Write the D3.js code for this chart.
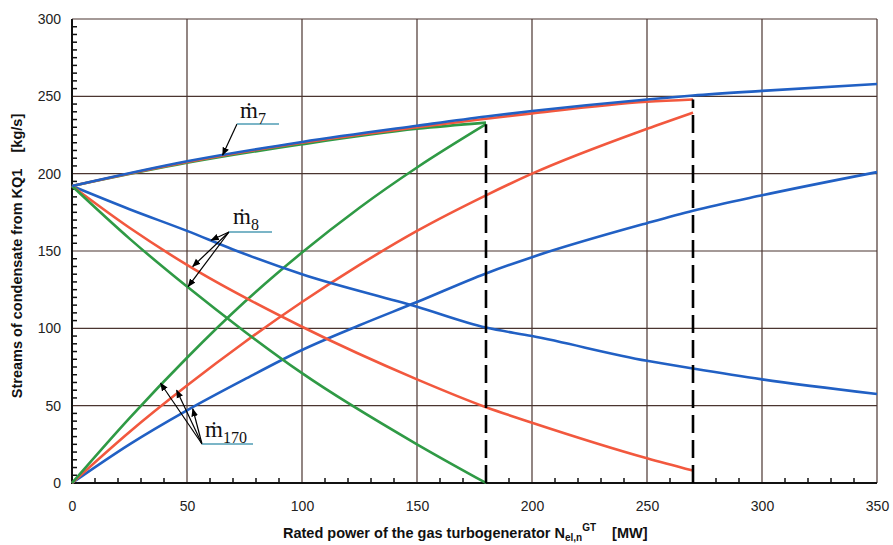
<!DOCTYPE html>
<html><head><meta charset="utf-8">
<script src="https://cdn.jsdelivr.net/npm/d3@7"></script>
<style>
body{margin:0;background:#fff;}
svg{display:block;}
</style>
</head><body>
<svg id="c" width="893" height="545"></svg>
<script>
// ---- data ----
const xTicks = [0,50,100,150,200,250,300,350];
const yTicks = [0,50,100,150,200,250,300];

const m7BlueX = [0,50,100,150,180,200,250,270,300,350];
const m7BlueY = [192,208,220.5,231,237,240.5,248,250.5,253.5,258];
const m7RedX = [0,50,100,150,180,200,250,270];
const m7RedY = [192,207.5,220,230,235.5,239,246.5,248];
const m7GreenX = [0,50,100,150,180];
const m7GreenY = [192,207,219,229,233];

const m8BlueX = [0,25,50,70,100,150,180,200,250,270,300,350];
const m8BlueY = [192,177,163,151,135,114,100.5,95,79,74,67,57.5];
const m8RedX = [0,25,50,100,150,180,200,250,270];
const m8RedY = [192,165,141,101,67,49,39,16,8];
const m8GreenX = [0,25,50,75,100,150,180];
const m8GreenY = [192,158,127,98,71,25,0];

const m170GreenX = [0,25,50,75,100,125,150,180];
const m170GreenY = [0,42,81,117,149,178,204,232];
const m170RedX = [0,25,50,75,100,125,150,180,200,250,270];
const m170RedY = [0,33,63,91,117,141,163,186,200,229,239.5];
const m170BlueX = [0,25,50,75,100,125,150,180,200,250,270,300,350];
const m170BlueY = [0,25,47,67,86,102,117,135.5,146,168,176,186,201];

const dashX = [180,270];
const dashTop = [232,248];

const colors = {blue:"#2160c4", red:"#f2583e", green:"#2f9a45"};

// ---- layout ----
const svg = d3.select("#c");
const L=72, R=877, T=19, B=483;
const x = d3.scaleLinear().domain([0,350]).range([L,R]);
const y = d3.scaleLinear().domain([0,300]).range([B,T]);

// grid
const gridColor = "#4a3530";
svg.append("g").selectAll("line").data(xTicks.slice(1)).join("line")
  .attr("x1",d=>x(d)).attr("x2",d=>x(d)).attr("y1",T).attr("y2",B)
  .attr("stroke",gridColor).attr("stroke-width",1.2);
svg.append("g").selectAll("line").data(yTicks.slice(1)).join("line")
  .attr("x1",L).attr("x2",R).attr("y1",d=>y(d)).attr("y2",d=>y(d))
  .attr("stroke",gridColor).attr("stroke-width",1.2);

// minor ticks (inside)
const xMinor = d3.range(10,350,10).filter(v=>v%50!==0);
const yMinor = d3.range(5,300,5).filter(v=>v%50!==0);
svg.append("g").selectAll("line").data(xMinor).join("line")
  .attr("x1",d=>x(d)).attr("x2",d=>x(d)).attr("y1",B).attr("y2",B-5)
  .attr("stroke","#111").attr("stroke-width",1.5);
svg.append("g").selectAll("line").data(yMinor).join("line")
  .attr("x1",L).attr("x2",L+5).attr("y1",d=>y(d)).attr("y2",d=>y(d))
  .attr("stroke","#111").attr("stroke-width",1.5);

// axes lines
svg.append("line").attr("x1",L).attr("x2",L).attr("y1",T).attr("y2",B+1).attr("stroke","#111").attr("stroke-width",2);
svg.append("line").attr("x1",L-1).attr("x2",R).attr("y1",B).attr("y2",B).attr("stroke","#111").attr("stroke-width",2);

// tick labels
const xAxis = d3.axisBottom(x).tickValues(xTicks).tickSize(0).tickPadding(18);
const gx = svg.append("g").attr("transform",`translate(0,${B})`).call(xAxis);
gx.select(".domain").remove();
gx.selectAll("text").attr("font-family","Liberation Sans, Arial, sans-serif").attr("font-size",14).attr("fill","#222");
const yAxis = d3.axisLeft(y).tickValues(yTicks).tickSize(0).tickPadding(11);
const gy = svg.append("g").attr("transform",`translate(${L},0)`).call(yAxis);
gy.select(".domain").remove();
gy.selectAll("text").attr("font-family","Liberation Sans, Arial, sans-serif").attr("font-size",14).attr("fill","#222");

// curves
const line = d3.line().x(d=>x(d[0])).y(d=>y(d[1])).curve(d3.curveMonotoneX);
const series = [
  [m170BlueX,m170BlueY,colors.blue],
  [m170RedX,m170RedY,colors.red],
  [m170GreenX,m170GreenY,colors.green],
  [m8BlueX,m8BlueY,colors.blue],
  [m8RedX,m8RedY,colors.red],
  [m8GreenX,m8GreenY,colors.green],
  [m7GreenX,m7GreenY,colors.green],
  [m7RedX,m7RedY,colors.red],
  [m7BlueX,m7BlueY,colors.blue],
];
svg.append("g").selectAll("path").data(series).join("path")
  .attr("d",s=>line(s[0].map((v,i)=>[v,s[1][i]])))
  .attr("fill","none").attr("stroke",s=>s[2]).attr("stroke-width",2.6);

// dashed verticals
svg.append("g").selectAll("line").data(dashX).join("line")
  .attr("x1",d=>x(d)).attr("x2",d=>x(d)).attr("y1",y(0)).attr("y2",(d,i)=>y(dashTop[i]))
  .attr("stroke","#000").attr("stroke-width",2.6).attr("stroke-dasharray","18,7");

// annotations
const defs = svg.append("defs");
defs.append("marker").attr("id","arr").attr("viewBox","0 0 10 10").attr("refX",9).attr("refY",5)
  .attr("markerWidth",7).attr("markerHeight",7).attr("orient","auto")
  .append("path").attr("d","M0,1 L10,5 L0,9 Z").attr("fill","#000");

function label(txt, sub, lx, ly, ulx1, ulx2, uly, tips){
  const g = svg.append("g");
  tips.forEach(t=>{
    g.append("line").attr("x1",ulx1).attr("y1",uly).attr("x2",t[0]).attr("y2",t[1])
      .attr("stroke","#000").attr("stroke-width",1.2).attr("marker-end","url(#arr)");
  });
  g.append("line").attr("x1",ulx1).attr("x2",ulx2).attr("y1",uly).attr("y2",uly)
    .attr("stroke","#4f9cb5").attr("stroke-width",1.3);
  const t = g.append("text").attr("x",lx).attr("y",ly)
    .attr("font-family","Liberation Serif, Times New Roman, serif").attr("font-size",23).attr("fill","#111");
  t.append("tspan").text(txt);
  t.append("tspan").attr("dy",6).attr("font-size",16).text(sub);
}
label("ṁ","7",240,118,237,279,124,[[x(65.5),y(212)]]);
label("ṁ","8",233,224,229,272,232,[[x(60.5),y(157)],[x(52.5),y(140)],[x(50.5),y(127)]]);
label("ṁ","170",205,437,202,253,444,[[x(38.5),y(64.5)],[x(45.5),y(60)],[x(52.5),y(48)]]);

// axis titles
svg.append("text").attr("transform",`translate(22,${256}) rotate(-90)`)
  .attr("text-anchor","middle").attr("font-family","Liberation Sans, Arial, sans-serif")
  .attr("font-size",14.5).attr("font-weight","bold").attr("fill","#111")
  .attr("xml:space","preserve")
  .text("Streams of condensate from KQ1    [kg/s]");

const xt = svg.append("text").attr("x",283).attr("y",538)
  .attr("font-family","Liberation Sans, Arial, sans-serif")
  .attr("font-size",14.5).attr("font-weight","bold").attr("fill","#111");
xt.append("tspan").text("Rated power of the gas turbogenerator N");
xt.append("tspan").attr("font-size",10).attr("dy",3).text("el,n");
xt.append("tspan").attr("font-size",10).attr("dy",-10).text("GT");
xt.append("tspan").attr("dy",7).attr("dx",16).text("[MW]");
</script>
</body></html>
